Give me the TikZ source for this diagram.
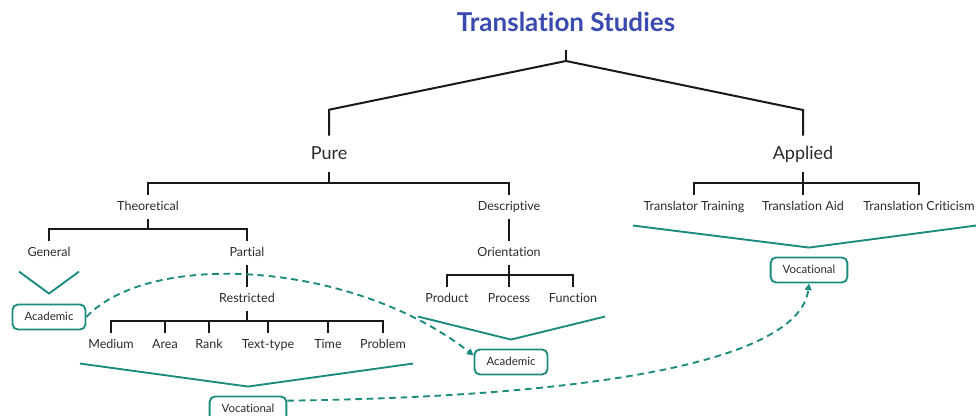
\documentclass[tikz,border=0pt]{standalone}
\usepackage{fontspec}
\setmainfont{Lato}[Ligatures=NoCommon]
\usetikzlibrary{arrows.meta}
\definecolor{tsblue}{HTML}{3A4AAE}
\definecolor{tsteal}{HTML}{1B8B7D}
\definecolor{tstext}{HTML}{2A2A2A}
\tikzset{
  headline/.style={text=tsblue, font=\bfseries\fontsize{19.5}{23}\selectfont, text height=13.3pt, text depth=0pt, inner sep=0pt, minimum height=40.5pt},
  big/.style={text=tstext, font=\fontsize{13.5}{16}\selectfont, text height=9pt, text depth=0pt, inner sep=0pt, minimum height=27pt},
  lbl/.style={text=tstext, font=\fontsize{9.4}{11}\selectfont, text height=6.5pt, text depth=1.5pt, inner sep=0pt, minimum height=18pt},
  tree/.style={draw=black!90, line width=1.5pt},
  funnel/.style={draw=tsteal, line width=1.4pt},
  tag/.style={draw=tsteal, line width=1.4pt, rounded corners=4pt, fill=white, text=tstext, font=\fontsize{8.6}{10}\selectfont, text height=6pt, text depth=0pt, inner xsep=9pt, minimum height=18.75pt},
  link/.style={draw=tsteal, line width=1.4pt, dash pattern=on 5pt off 3.5pt, -{Triangle[length=5pt,width=5pt]}}
}
\begin{document}
\begin{tikzpicture}[x=0.75pt, y=-0.75pt]
    \useasboundingbox (0,0) rectangle (976,416);

    \node[headline] (ts) at (566,23) {Translation Studies};
    \node[big] (pure) at (329,154) {Pure};
    \node[big] (applied) at (803,154) {Applied};

    \node[lbl] (theo) at (148,207) {Theoretical};
    \node[lbl] (desc) at (509,207) {Descriptive};
    \node[lbl] (train) at (694,207) {Translator Training};
    \node[lbl] (aid) at (803,207) {Translation Aid};
    \node[lbl] (crit) at (919,207) {Translation Criticism};

    \node[lbl] (gen) at (49,253) {General};
    \node[lbl] (part) at (247,253) {Partial};
    \node[lbl] (orient) at (509,253) {Orientation};

    \node[lbl] (restr) at (247,299) {Restricted};
    \node[lbl] (prod) at (447,299) {Product};
    \node[lbl] (proc) at (509,299) {Process};
    \node[lbl] (func) at (573,299) {Function};

    \node[lbl] (med) at (111,345) {Medium};
    \node[lbl] (area) at (165,345) {Area};
    \node[lbl] (rank) at (209,345) {Rank};
    \node[lbl] (ttype) at (268,345) {Text-type};
    \node[lbl] (time) at (328,345) {Time};
    \node[lbl] (prob) at (383,345) {Problem};

    \coordinate (fork) at (566,61);
    \draw[tree] (ts.south) -- (fork);
    \draw[tree] (pure.north) -- ++(0,-26) -- (fork) -- ++(237,49) -- (applied.north);

    \draw[tree] (pure.south) -- ++(0,11);
    \draw[tree] (theo.north) -- ++(0,-12) -| (desc.north);
    \draw[tree] (applied.south) -- (aid.north);
    \draw[tree] (train.north) -- ++(0,-12) -| (crit.north);

    \draw[tree] (theo.south) -- ++(0,10);
    \draw[tree] (gen.north) -- ++(0,-12) -| (part.north);
    \draw[tree] (desc.south) -- (orient.north);
    \draw[tree] (orient.south) -- (proc.north);
    \draw[tree] (prod.north) -- ++(0,-12) -| (func.north);

    \draw[tree] (part.south) -- (restr.north);
    \draw[tree] (restr.south) -- ++(0,10);
    \draw[tree] (med.north) -- ++(0,-12) -| (prob.north);
    \foreach \n in {area, rank, ttype, time}{
        \draw[tree] (\n.north) -- ++(0,-12);
    }

    \node[tag] (acadA) at (49,317) {Academic};
    \node[tag] (acadB) at (511,362) {Academic};
    \node[tag] (vocA) at (248,409) {Vocational};
    \node[tag] (vocB) at (809,270) {Vocational};

    \draw[funnel] (acadA.north) ++(-30,-32) -- ++(30,22) -- ++(30,-22);
    \draw[funnel] (vocA.north) ++(-168,-32) -- ++(168,23) -- ++(165,-23);
    \draw[funnel] (acadB.north) ++(-93,-32) -- ++(93,23) -- ++(94,-23);
    \draw[funnel] (vocB.north) ++(-176,-31) -- ++(176,22) -- ++(167,-22);

    \draw[link] (acadA.east) .. controls +(63,-67) and +(-122,-95) .. (acadB.170);
    \draw[link] (vocA.12) .. controls +(311,-4) and +(-9,77) .. (vocB.south);
\end{tikzpicture}
\end{document}
